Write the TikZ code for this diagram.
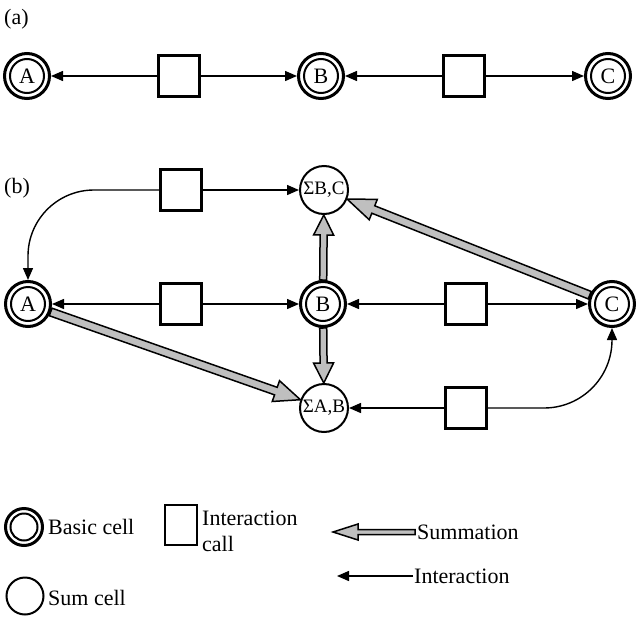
\documentclass[tikz,border=0pt]{standalone}
\usepackage{fontspec}
\setmainfont{Liberation Serif}
\usetikzlibrary{arrows.meta,calc}

% thick grey summation arrow: from node #1 to node #2, gaps #3/#4 at the ends,
% head length #5, head half-width #6, shaft half-width #7
\newcommand\sumarrow[7]{%
  \coordinate (sumS) at ($(#1)!#3!(#2)$);
  \coordinate (sumE) at ($(#2)!#4!(#1)$);
  \coordinate (sumH) at ($(sumE)!#5!(sumS)$);
  \draw[sumstyle]
    ($(sumS)!#7!90:(sumE)$) -- ($(sumH)!#7!-90:(sumS)$) -- ($(sumH)!#6!-90:(sumS)$)
    -- (sumE) -- ($(sumH)!#6!90:(sumS)$) -- ($(sumH)!#7!90:(sumS)$)
    -- ($(sumS)!#7!-90:(sumE)$) -- cycle;
}

\begin{document}
\begin{tikzpicture}[x=1pt,y=-1pt,
  every node/.style={font=\fontsize{22}{26}\selectfont},
  basic/.style={circle, draw, line width=3pt, minimum size=45pt, inner sep=0pt,
                outer sep=1.5pt,
                path picture={\draw[line width=2pt]
                  (path picture bounding box.center) circle (17pt);}},
  basicsmall/.style={circle, draw, line width=3pt, minimum size=37pt, inner sep=0pt,
                path picture={\draw[line width=2pt]
                  (path picture bounding box.center) circle (13.5pt);}},
  sumcell/.style={circle, draw, line width=2pt, minimum size=48pt, inner sep=0pt,
                  outer sep=1pt, font=\fontsize{19}{22}\selectfont},
  icall/.style={rectangle, draw, line width=2.4pt, minimum size=41pt, inner sep=0pt},
  inter/.style={line width=1.4pt, -{Triangle[length=12pt,width=10pt]}},
  sumstyle/.style={draw=black, line width=1.5pt, fill=gray!50, line join=miter},
  lbl/.style={anchor=west, inner sep=0pt}
]
\useasboundingbox (0,0) rectangle (640,616);

% ---------- (a) ----------
\node[lbl] (la) at (4,19) {(a)};
\node[basic] (aA) at (27,76) {A};
\node[icall] (a1) at (179,76) {};
\node[basic] (aB) at (321,76) {B};
\node[icall] (a2) at (464,76) {};
\node[basic] (aC) at (608,76) {C};
\draw[inter] (a1.west) -- (aA);
\draw[inter] (a1.east) -- (aB);
\draw[inter] (a2.west) -- (aB);
\draw[inter] (a2.east) -- (aC);

% ---------- (b) ----------
\node[lbl] (lb) at (4,188) {(b)};
\node[sumcell] (sBC) at (324,190) {ΣB,C};
\node[icall] (t1) at (181,190) {};
\node[basic] (bA) at (28,304) {A};
\node[icall] (m1) at (181,304) {};
\node[basic] (bB) at (323,304) {B};
\node[icall] (m2) at (466,304) {};
\node[basic] (bC) at (612,304) {C};
\node[sumcell] (sAB) at (324,408) {ΣA,B};
\node[icall] (b1) at (466,408) {};

\draw[inter] (t1.east) -- (sBC);
\draw[inter, rounded corners=66pt] (t1.west) -| (bA.north);
\draw[inter] (m1.west) -- (bA);
\draw[inter] (m1.east) -- (bB);
\draw[inter] (m2.west) -- (bB);
\draw[inter] (m2.east) -- (bC);
\draw[inter] (b1.west) -- (sAB);
\draw[inter, rounded corners=68pt] (b1.east) -| (bC.south);

\sumarrow{bA}{sAB}{24pt}{25pt}{26pt}{11pt}{4pt}
\sumarrow{bB}{sBC}{24pt}{25pt}{20pt}{10pt}{3.5pt}
\sumarrow{bB}{sAB}{24pt}{25pt}{20pt}{10pt}{3.5pt}
\sumarrow{bC}{sBC}{24pt}{25pt}{28pt}{11pt}{4pt}

% ---------- legend ----------
\node[basicsmall] (kb) at (24,527) {};
\node[lbl] (kbt) at (48,527) {Basic cell};
\node[icall, minimum width=32pt, minimum height=40pt] (ki) at (181,525) {};
\node[lbl, align=left, anchor=north west] (kit) at (202,511) {Interaction\\call};
\coordinate (ks1) at (415,532);
\coordinate (ks2) at (333,532);
\sumarrow{ks1}{ks2}{0pt}{0pt}{25pt}{8pt}{2.5pt}
\node[lbl] (kst) at (417,532) {Summation};
\coordinate (kr1) at (413,576);
\coordinate (kr2) at (337,576);
\draw[inter] (kr1) -- (kr2);
\node[lbl] (krt) at (414,576) {Interaction};
\node[sumcell, minimum size=37pt] (ks) at (25,596) {};
\node[lbl] (kst2) at (48,598) {Sum cell};
\end{tikzpicture}
\end{document}
